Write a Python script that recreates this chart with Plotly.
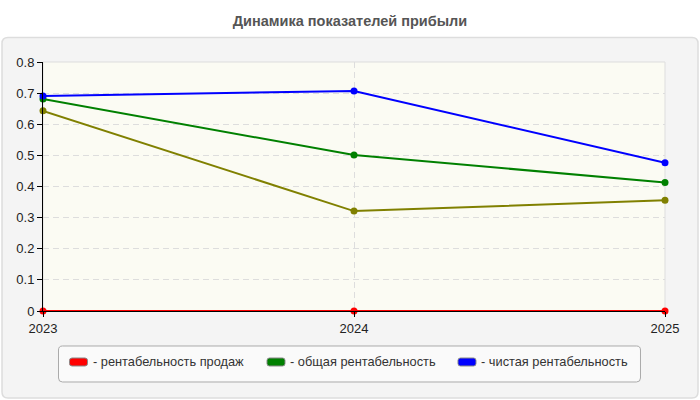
import plotly.graph_objects as go

# ---- data ----
years = [2023, 2024, 2025]
sales_profitability = [0.0, 0.0, 0.0]
total_profitability = [0.681, 0.501, 0.413]
net_profitability = [0.691, 0.707, 0.476]
other_profitability = [0.643, 0.321, 0.356]

series_names = ["рентабельность продаж", "общая рентабельность", "чистая рентабельность"]
series_colors = ["#ff0000", "#008000", "#0000ff"]
other_color = "#808000"
y_ticks = [0, 0.1, 0.2, 0.3, 0.4, 0.5, 0.6, 0.7, 0.8]
y_tick_text = ["0", "0.1", "0.2", "0.3", "0.4", "0.5", "0.6", "0.7", "0.8"]
title_text = "Динамика показателей прибыли"

# ---- layout geometry (pixels) ----
W, H = 700, 400
L, R, T, B = 43, 35, 62, 89
PW = W - L - R
PH = H - T - B


def px(x):
    return (x - L) / PW


def py(y):
    return (H - B - y) / PH


def rounded_path(x0, y0, x1, y1, r):
    pts = [
        ("M", (x0 + r, y0)),
        ("L", (x1 - r, y0)),
        ("Q", (x1, y0), (x1, y0 + r)),
        ("L", (x1, y1 - r)),
        ("Q", (x1, y1), (x1 - r, y1)),
        ("L", (x0 + r, y1)),
        ("Q", (x0, y1), (x0, y1 - r)),
        ("L", (x0, y0 + r)),
        ("Q", (x0, y0), (x0 + r, y0)),
    ]
    s = ""
    for p in pts:
        cmd = p[0]
        coords = " ".join(f"{px(a):.5f},{py(b):.5f}" for a, b in p[1:])
        s += f"{cmd} {coords} "
    return s + "Z"


fig = go.Figure()

all_series = [sales_profitability, total_profitability, net_profitability]
for name, vals, col in zip(series_names, all_series, series_colors):
    fig.add_trace(go.Scatter(
        x=years, y=vals, name=name, mode="lines+markers",
        line=dict(color=col, width=2),
        marker=dict(color=col, size=7),
        showlegend=False, cliponaxis=False,
    ))
fig.add_trace(go.Scatter(
    x=years, y=other_profitability, name="прочая рентабельность",
    mode="lines+markers",
    line=dict(color=other_color, width=2),
    marker=dict(color=other_color, size=7),
    showlegend=False, cliponaxis=False,
))

shapes = []
# outer panel
shapes.append(dict(type="path", xref="paper", yref="paper", layer="below",
                   path=rounded_path(2, 37.5, 698, 398, 6),
                   fillcolor="#f4f4f4", line=dict(color="#dddddd", width=1.5)))
# plot background
shapes.append(dict(type="rect", xref="paper", yref="paper", layer="below",
                   x0=0, x1=1, y0=0, y1=1, fillcolor="#fbfbf3",
                   line=dict(color="#dddddd", width=1)))
# legend box
shapes.append(dict(type="path", xref="paper", yref="paper", layer="above",
                   path=rounded_path(58.5, 346, 640.5, 382, 4),
                   fillcolor="#fafafa", line=dict(color="#aaaaaa", width=1)))

annotations = []
sw_x = [69.5, 267, 458]
for name, col, x0 in zip(series_names, series_colors, sw_x):
    shapes.append(dict(type="path", xref="paper", yref="paper", layer="above",
                       path=rounded_path(x0, 358, x0 + 18, 366, 2.5),
                       fillcolor=col, line=dict(color="#888888", width=1)))
    annotations.append(dict(
        x=px(x0 + 21), y=py(362), xref="paper", yref="paper",
        xanchor="left", yanchor="middle", showarrow=False,
        text="- " + name,
        font=dict(family="Arial, Liberation Sans", size=12.8, color="#333333"),
    ))

fig.update_layout(
    width=W, height=H,
    margin=dict(l=L, r=R, t=T, b=B),
    paper_bgcolor="#ffffff",
    plot_bgcolor="rgba(0,0,0,0)",
    title=dict(text="<b>" + title_text + "</b>", x=0.5, xanchor="center",
               y=1 - 21 / H, yanchor="middle", yref="container",
               font=dict(family="Arial, Liberation Sans", size=14.5, color="#555555")),
    shapes=shapes,
    annotations=annotations,
    showlegend=False,
    xaxis=dict(
        range=[years[0], years[-1]], tickvals=years,
        ticktext=[str(y) for y in years],
        showgrid=True, gridcolor="#dddddd", griddash="6px,4px", gridwidth=1,
        showline=True, linecolor="#000000", linewidth=1,
        ticks="outside", ticklen=5, tickcolor="#000000",
        tickfont=dict(family="Arial, Liberation Sans", size=13, color="#222222"),
        zeroline=False, fixedrange=True,
    ),
    yaxis=dict(
        range=[0, 0.8], tickvals=y_ticks, ticktext=y_tick_text,
        showgrid=True, gridcolor="#dddddd", griddash="6px,4px", gridwidth=1,
        showline=True, linecolor="#000000", linewidth=1,
        ticks="outside", ticklen=5, tickcolor="#000000",
        tickfont=dict(family="Arial, Liberation Sans", size=13, color="#222222"),
        zeroline=False, fixedrange=True,
    ),
)

fig.write_html("out.html")
